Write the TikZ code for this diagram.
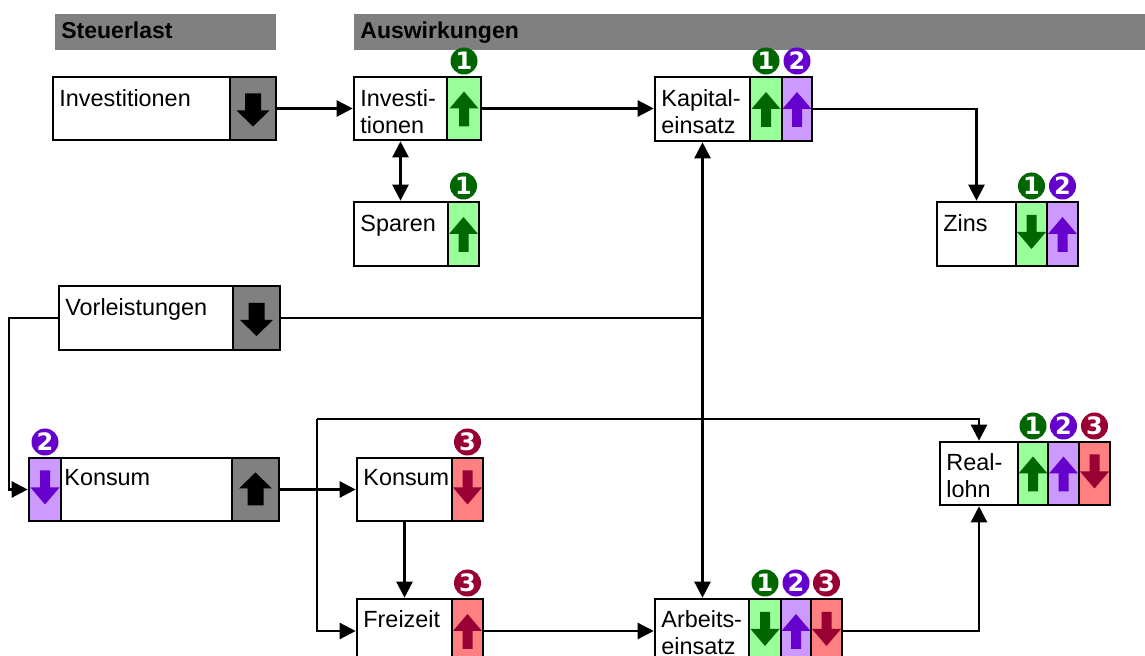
\documentclass[tikz,border=0pt]{standalone}
\usepackage{fontspec}
\setmainfont{Liberation Sans}
\newfontfamily\digfont{DejaVu Sans}
\usetikzlibrary{arrows.meta,fit}
\definecolor{hdrgray}{HTML}{808080}
\definecolor{lgreen}{HTML}{99FF99}
\definecolor{lpurple}{HTML}{CC99FF}
\definecolor{lred}{HTML}{FF8080}
\definecolor{dgreen}{HTML}{006600}
\definecolor{dpurple}{HTML}{6600CC}
\definecolor{dred}{HTML}{990033}
\tikzset{
 box/.style={draw=black, line width=1.3pt, fill=white, inner sep=0pt},
 cellgreen/.style={box, fill=lgreen},
 cellpurple/.style={box, fill=lpurple},
 cellred/.style={box, fill=lred},
 cellgray/.style={box, fill=hdrgray},
 hdrbar/.style={fill=hdrgray, inner sep=0pt},
 lbl/.style={anchor=north west, inner sep=0pt, align=left, font=\fontsize{11.7}{13.5}\selectfont},
 hdr/.style={anchor=base west, inner sep=0pt, font=\fontsize{11.5}{13}\selectfont\bfseries},
 badge/.style={circle, inner sep=0pt, minimum size=13.5pt, text=white, above=0.4pt, font=\digfont\bfseries\fontsize{12}{12}\selectfont},
 conn/.style={line width=1.2pt, draw=black},
 arr/.style={conn, -{Triangle[length=8pt,width=8pt]}},
 darr/.style={conn, {Triangle[length=8pt,width=8pt]}-{Triangle[length=8pt,width=8pt]}},
 pics/uparr/.style={code={\fill[#1] (0,-17) -- (14.5,0) -- (5,0) -- (5,18) -- (-5,18) -- (-5,0) -- (-14.5,0) -- cycle;}},
 pics/dnarr/.style={code={\fill[#1] (0,15) -- (14.5,-2) -- (5,-2) -- (5,-19) -- (-5,-19) -- (-5,-2) -- (-14.5,-2) -- cycle;}},
 pics/bigup/.style={code={\fill[#1] (0,-17) -- (16.5,-1) -- (8,-1) -- (8,16) -- (-8,16) -- (-8,-1) -- (-16.5,-1) -- cycle;}},
 pics/bigdn/.style={code={\fill[#1] (0,18) -- (16.5,2) -- (8,2) -- (8,-15) -- (-8,-15) -- (-8,2) -- (-16.5,2) -- cycle;}},
}
\begin{document}
\begin{tikzpicture}[x=0.5pt,y=-0.5pt]
\useasboundingbox (0,0) rectangle (1145,656);
\clip (0,0) rectangle (1145,656);

% headers
\node[hdrbar, fit={(55,14) (276,50)}] (hst) {};
\node[hdrbar, fit={(354,14) (1145,50)}] (hau) {};
\node[hdr] (thst) at (61,39) {Steuerlast};
\node[hdr] (thau) at (360,39) {Auswirkungen};

% Investitionen (Steuerlast)
\node[box, fit={(53,77) (230,140)}] (inv1) {};
\node[cellgray, fit={(230,77) (276,140)}] (inv1g) {};
\node[lbl] (tinv1) at (59,87) {\strut Investitionen};
\pic at (inv1g.center) {bigdn=black};

% Investi-tionen
\node[box, fit={(354,77) (447,140)}] (inv2) {};
\node[cellgreen, fit={(447,77) (481,140)}] (inv2g) {};
\node[lbl] (tinv2) at (360,87) {\strut Investi-\\tionen};
\pic at (inv2g.center) {uparr=dgreen};
\node[badge, fill=dgreen] (binv2) at (inv2g.north) {1};

% Kapitaleinsatz
\node[box, fit={(655,77) (750,141)}] (kap) {};
\node[cellgreen, fit={(750,77) (782,141)}] (kapg) {};
\node[cellpurple, fit={(782,77) (812,141)}] (kapp) {};
\node[lbl] (tkap) at (661,87) {\strut Kapital-\\einsatz};
\pic at (kapg.center) {uparr=dgreen};
\pic at (kapp.center) {uparr=dpurple};
\node[badge, fill=dgreen] (bkap1) at (kapg.north) {1};
\node[badge, fill=dpurple] (bkap2) at (kapp.north) {2};

% Sparen
\node[box, fit={(354,202) (448,266)}] (spa) {};
\node[cellgreen, fit={(448,202) (479,266)}] (spag) {};
\node[lbl] (tspa) at (360,212) {\strut Sparen};
\pic at (spag.center) {uparr=dgreen};
\node[badge, fill=dgreen] (bspa) at (spag.north) {1};

% Zins
\node[box, fit={(937,202) (1016,266)}] (zins) {};
\node[cellgreen, fit={(1016,202) (1047,266)}] (zinsg) {};
\node[cellpurple, fit={(1047,202) (1078,266)}] (zinsp) {};
\node[lbl] (tzins) at (943,212) {\strut Zins};
\pic at (zinsg.center) {dnarr=dgreen};
\pic at (zinsp.center) {uparr=dpurple};
\node[badge, fill=dgreen] (bzins1) at (zinsg.north) {1};
\node[badge, fill=dpurple] (bzins2) at (zinsp.north) {2};

% Vorleistungen
\node[box, fit={(59,286) (233,350)}] (vor) {};
\node[cellgray, fit={(233,286) (280,350)}] (vorg) {};
\node[lbl] (tvor) at (65,296) {\strut Vorleistungen};
\pic at (vorg.center) {bigdn=black};

% Konsum (Steuerlast)
\node[box, fit={(61,458) (232,521)}] (kon1) {};
\node[cellpurple, fit={(29,458) (61,521)}] (kon1p) {};
\node[cellgray, fit={(232,458) (279,521)}] (kon1g) {};
\node[lbl] (tkon1) at (64,466) {\strut Konsum};
\pic at (kon1p.center) {dnarr=dpurple};
\pic at (kon1g.center) {bigup=black};
\node[badge, fill=dpurple] (bkon1) at (kon1p.north) {2};

% Konsum (Auswirkungen)
\node[box, fit={(357,458) (452,521)}] (kon2) {};
\node[cellred, fit={(452,458) (483,521)}] (kon2r) {};
\node[lbl] (tkon2) at (363,466) {\strut Konsum};
\pic at (kon2r.center) {dnarr=dred};
\node[badge, fill=dred] (bkon2) at (kon2r.north) {3};

% Freizeit
\node[box, fit={(357,599) (452,663)}] (fz) {};
\node[cellred, fit={(452,599) (483,663)}] (fzr) {};
\node[lbl] (tfz) at (363,608) {\strut Freizeit};
\pic at (fzr.center) {uparr=dred};
\node[badge, fill=dred] (bfz) at (fzr.north) {3};

% Arbeitseinsatz
\node[box, fit={(655,599) (749,663)}] (arb) {};
\node[cellgreen, fit={(749,599) (781,663)}] (arbg) {};
\node[cellpurple, fit={(781,599) (811,663)}] (arbp) {};
\node[cellred, fit={(811,599) (842,663)}] (arbr) {};
\node[lbl] (tarb) at (661,608) {\strut Arbeits-\\einsatz};
\pic at (arbg.center) {dnarr=dgreen};
\pic at (arbp.center) {uparr=dpurple};
\pic at (arbr.center) {dnarr=dred};
\node[badge, fill=dgreen] (barb1) at (arbg.north) {1};
\node[badge, fill=dpurple] (barb2) at (arbp.north) {2};
\node[badge, fill=dred] (barb3) at (arbr.north) {3};

% Reallohn
\node[box, fit={(940,442) (1018,505)}] (real) {};
\node[cellgreen, fit={(1018,442) (1048,505)}] (realg) {};
\node[cellpurple, fit={(1048,442) (1079,505)}] (realp) {};
\node[cellred, fit={(1079,442) (1110,505)}] (realr) {};
\node[lbl] (treal) at (946,451) {\strut Real-\\lohn};
\pic at (realg.center) {uparr=dgreen};
\pic at (realp.center) {uparr=dpurple};
\pic at (realr.center) {dnarr=dred};
\node[badge, fill=dgreen] (breal1) at (realg.north) {1};
\node[badge, fill=dpurple] (breal2) at (realp.north) {2};
\node[badge, fill=dred] (breal3) at (realr.north) {3};

% connectors
\coordinate (jtop) at (317,419);
\draw[arr] (inv1g.east) -- (inv2.west);
\draw[arr] (inv2g.east) -- (inv2g.east -| kap.west);
\draw[darr] (inv2.south) -- (inv2.south |- spa.north);
\draw[arr] (kapp.east) -| (zins.north);
\draw[darr] (kap.south) -- (kap.south |- arb.north);
\draw[conn] (vorg.east) -- (vorg.east -| kap.south);
\draw[arr] (vor.west) -- ++(-49,0) |- (kon1p.west);
\draw[arr] (kon1g.east) -- (kon2.west);
\draw[arr] (jtop) |- (fz.west);
\draw[arr] (jtop) -| (real.north);
\draw[arr] (kon2.south) -- (fz.north);
\draw[arr] (fzr.east) -- (arb.west);
\draw[arr] (arbr.east) -| (real.south);
\end{tikzpicture}
\end{document}
